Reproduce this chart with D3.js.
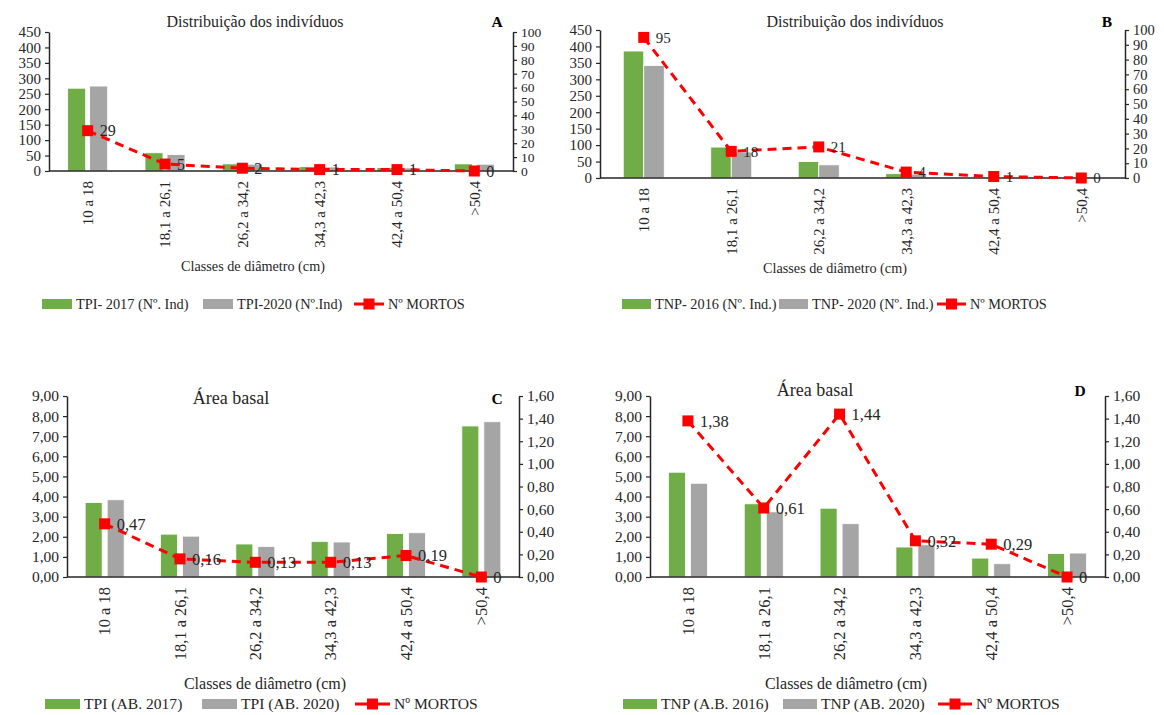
<!DOCTYPE html>
<html>
<head>
<meta charset="utf-8">
<script src="https://cdn.jsdelivr.net/npm/d3@7"></script>
<style>
  html, body { margin: 0; padding: 0; background: #fff; }
  svg { display: block; font-family: "Liberation Serif", "Times New Roman", serif; }
</style>
</head>
<body>
<svg id="chart" width="1164" height="715"></svg>
<script>
// Diameter classes shared by all four panels
const classes = ["10 a 18", "18,1 a 26,1", "26,2 a 34,2", "34,3 a 42,3", "42,4 a 50,4", ">50,4"];

// A: number of individuals, TPI
const tpiInd2017 = [268, 59, 23, 14, 11, 23];
const tpiInd2020 = [275, 53, 22, 13, 10, 22];
const tpiDead = [29, 5, 2, 1, 1, 0];

// B: number of individuals, TNP
const tnpInd2016 = [386, 94, 50, 13, 3, 2];
const tnpInd2020 = [342, 79, 40, 12, 2, 1];
const tnpDead = [95, 18, 21, 4, 1, 0];

// C: basal area, TPI
const tpiAB2017 = [3.70, 2.13, 1.64, 1.77, 2.16, 7.51];
const tpiAB2020 = [3.84, 2.03, 1.52, 1.74, 2.20, 7.72];
const tpiDeadAB = [0.47, 0.16, 0.13, 0.13, 0.19, 0];

// D: basal area, TNP
const tnpAB2016 = [5.21, 3.64, 3.42, 1.49, 0.94, 1.17];
const tnpAB2020 = [4.66, 3.24, 2.65, 1.60, 0.66, 1.19];
const tnpDeadAB = [1.38, 0.61, 1.44, 0.32, 0.29, 0];

// Axis tick values
const countTicks = d3.range(0, 451, 50);
const deadCountTicks = d3.range(0, 101, 10);
const areaTicks = d3.range(0, 9.001, 1);
const deadAreaTicks = d3.range(0, 1.6001, 0.2);

const GREEN = "#70AD47", GRAY = "#A5A5A5", RED = "#FF0000", INK = "#262626";
const comma2 = v => d3.format(".2f")(v).replace(".", ",");
const commaLbl = v => v === 0 ? "0" : String(v).replace(".", ",");

const svg = d3.select("#chart");

function drawPanel(p) {
  const f = p.fonts;
  const g = svg.append("g");
  const x = d3.scaleBand().domain(classes).range([p.left, p.right]);
  const yL = d3.scaleLinear().domain(p.leftDomain).range([p.bottom, p.top]);
  const yR = d3.scaleLinear().domain(p.rightDomain).range([p.bottom, p.top]);
  const cx = c => x(c) + x.bandwidth() / 2;

  // bars
  const series = [{ v: p.s1, color: GREEN, off: -(p.gap / 2 + p.barW) },
                  { v: p.s2, color: GRAY, off: p.gap / 2 }];
  series.forEach(s => {
    g.selectAll(null).data(classes).enter().append("rect")
      .attr("x", (c) => cx(c) + s.off)
      .attr("width", p.barW)
      .attr("y", (c, i) => yL(s.v[i]))
      .attr("height", (c, i) => yL(0) - yL(s.v[i]))
      .attr("fill", s.color)
      .attr("stroke", "#fff").attr("stroke-width", 0.8);
  });

  // left axis
  const la = g.append("g").attr("transform", `translate(${p.left},0)`)
    .call(d3.axisLeft(yL).tickValues(p.leftTicks).tickFormat(p.leftFmt).tickSizeOuter(0).tickSizeInner(4).tickPadding(4));
  // right axis
  const ra = g.append("g").attr("transform", `translate(${p.right},0)`)
    .call(d3.axisRight(yR).tickValues(p.rightTicks).tickFormat(p.rightFmt).tickSizeOuter(0).tickSizeInner(4).tickPadding(4));
  [[la, f.left], [ra, f.right]].forEach(([a, fs]) => {
    a.select(".domain").attr("stroke", INK).attr("stroke-width", 1.5);
    a.selectAll(".tick line").attr("stroke", INK).attr("stroke-width", 1.2);
    a.selectAll(".tick text").attr("fill", INK).style("font-size", fs + "px").style("font-family", "Liberation Serif");
  });

  // category axis
  g.append("line").attr("x1", p.left).attr("x2", p.right)
    .attr("y1", yL(0)).attr("y2", yL(0)).attr("stroke", INK).attr("stroke-width", 1.5);
  g.selectAll(null).data(classes).enter().append("text")
    .attr("transform", c => `translate(${cx(c)},${yL(0) + 10}) rotate(-90)`)
    .attr("text-anchor", "end").attr("dy", "0.35em")
    .attr("fill", INK).style("font-size", f.cat + "px")
    .text(c => c);

  // deaths line on secondary axis
  const line = d3.line().x((d, i) => cx(classes[i])).y(d => yR(d));
  g.append("path").datum(p.dead).attr("d", line)
    .attr("fill", "none").attr("stroke", RED).attr("stroke-width", 3)
    .attr("stroke-dasharray", "9,6");
  g.selectAll(null).data(p.dead).enter().append("rect")
    .attr("x", (d, i) => cx(classes[i]) - 5.5).attr("y", d => yR(d) - 5.5)
    .attr("width", 11).attr("height", 11).attr("fill", RED);
  g.selectAll(null).data(p.dead).enter().append("text")
    .attr("x", (d, i) => cx(classes[i]) + 12).attr("y", d => yR(d))
    .attr("dy", "0.35em").attr("fill", INK).style("font-size", f.dead + "px")
    .text(d => p.deadFmt(d));

  // titles
  g.append("text").attr("x", p.titleX).attr("y", p.titleY).attr("text-anchor", "middle")
    .attr("fill", INK).style("font-size", f.title + "px").text(p.title);
  g.append("text").attr("x", p.letterX).attr("y", p.titleY).attr("text-anchor", "middle")
    .attr("fill", "#000").style("font-size", "15.5px").style("font-weight", "bold").text(p.letter);
  g.append("text").attr("x", p.xTitleX).attr("y", p.xTitleY).attr("text-anchor", "middle")
    .attr("fill", INK).style("font-size", f.xTitle + "px").text("Classes de diâmetro (cm)");

  // legend
  const ly = p.legendY;
  const items = [
    { type: "bar", color: GREEN, x: p.leg[0], label: p.names[0] },
    { type: "bar", color: GRAY, x: p.leg[1], label: p.names[1] },
    { type: "line", color: RED, x: p.leg[2], label: "Nº MORTOS" }
  ];
  items.forEach(it => {
    if (it.type === "bar") {
      g.append("rect").attr("x", it.x).attr("y", ly - 5).attr("width", p.swW).attr("height", 10).attr("fill", it.color);
    } else {
      g.append("line").attr("x1", it.x).attr("x2", it.x + p.swW).attr("y1", ly).attr("y2", ly)
        .attr("stroke", RED).attr("stroke-width", 3);
      g.append("rect").attr("x", it.x + p.swW / 2 - 5.5).attr("y", ly - 5.5).attr("width", 11).attr("height", 11).attr("fill", RED);
    }
    g.append("text").attr("x", it.x + p.swW + 4).attr("y", ly).attr("dy", "0.35em")
      .attr("fill", INK).style("font-size", f.legend + "px").text(it.label);
  });
}

const countFonts = { left: 15, right: 13.5, cat: 15, dead: 16, title: 16, xTitle: 14.2, legend: 14.3 };
const areaFonts = { left: 15.5, right: 15.5, cat: 16.5, dead: 16.5, title: 18, xTitle: 16, legend: 15.6 };

drawPanel({
  left: 49, right: 513, top: 32, bottom: 171, barW: 18, gap: 4,
  s1: tpiInd2017, s2: tpiInd2020, dead: tpiDead,
  leftDomain: [0, 450], rightDomain: [0, 100], leftTicks: countTicks, rightTicks: deadCountTicks,
  leftFmt: d3.format("d"), rightFmt: d3.format("d"), deadFmt: d3.format("d"),
  fonts: countFonts,
  title: "Distribuição dos indivíduos", titleX: 255, titleY: 27, letter: "A", letterX: 497,
  xTitleX: 253, xTitleY: 271, legendY: 304, leg: [42, 203, 354], swW: 30,
  names: ["TPI- 2017 (Nº. Ind)", "TPI-2020 (Nº.Ind)"]
});

drawPanel({
  left: 600, right: 1125, top: 30, bottom: 178, barW: 20.5, gap: 0,
  s1: tnpInd2016, s2: tnpInd2020, dead: tnpDead,
  leftDomain: [0, 450], rightDomain: [0, 100], leftTicks: countTicks, rightTicks: deadCountTicks,
  leftFmt: d3.format("d"), rightFmt: d3.format("d"), deadFmt: d3.format("d"),
  fonts: Object.assign({}, countFonts, { right: 14.5, dead: 15 }),
  title: "Distribuição dos indivíduos", titleX: 855, titleY: 27, letter: "B", letterX: 1107,
  xTitleX: 835, xTitleY: 273, legendY: 304, leg: [622, 779, 937], swW: 29,
  names: ["TNP- 2016 (Nº. Ind.)", "TNP- 2020 (Nº. Ind.)"]
});

drawPanel({
  left: 67, right: 519, top: 396, bottom: 577, barW: 17, gap: 5,
  s1: tpiAB2017, s2: tpiAB2020, dead: tpiDeadAB,
  leftDomain: [0, 9], rightDomain: [0, 1.6], leftTicks: areaTicks, rightTicks: deadAreaTicks,
  leftFmt: comma2, rightFmt: comma2, deadFmt: commaLbl,
  fonts: areaFonts,
  title: "Área basal", titleX: 231, titleY: 404, letter: "C", letterX: 497,
  xTitleX: 265, xTitleY: 689, legendY: 704, leg: [45, 202, 355], swW: 35,
  names: ["TPI (AB. 2017)", "TPI (AB. 2020)"]
});

drawPanel({
  left: 650, right: 1105, top: 396, bottom: 577, barW: 17, gap: 5,
  s1: tnpAB2016, s2: tnpAB2020, dead: tnpDeadAB,
  leftDomain: [0, 9], rightDomain: [0, 1.6], leftTicks: areaTicks, rightTicks: deadAreaTicks,
  leftFmt: comma2, rightFmt: comma2, deadFmt: commaLbl,
  fonts: areaFonts,
  title: "Área basal", titleX: 815, titleY: 396, letter: "D", letterX: 1080,
  xTitleX: 846, xTitleY: 689, legendY: 704, leg: [623, 783, 938], swW: 34,
  names: ["TNP (A.B. 2016)", "TNP (AB. 2020)"]
});
</script>
</body>
</html>
